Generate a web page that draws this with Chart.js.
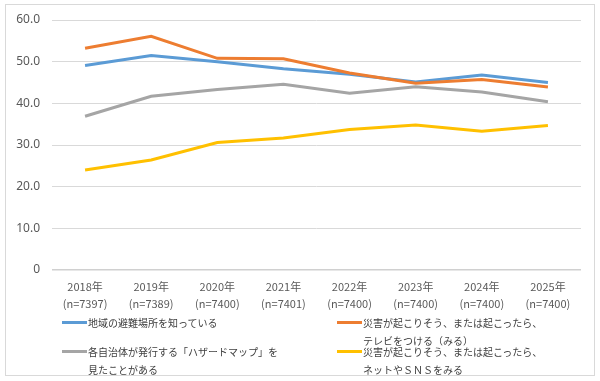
<!DOCTYPE html>
<html>
<head>
<meta charset="utf-8">
<script src="https://cdn.jsdelivr.net/npm/chart.js@4"></script>
<style>
  body { margin: 0; background: #fff; }
  #wrap { position: relative; width: 600px; height: 381px; font-family: "Noto Sans CJK JP", "Noto Sans", sans-serif; }
  #frame { position: absolute; left: 5px; top: 4px; width: 590px; height: 372px; border: 1px solid #d9d9d9; box-sizing: border-box; }
  #chart { position: absolute; left: 0; top: 0; }
  .item { position: absolute; font-size: 10px; line-height: 18px; color: #404040; white-space: nowrap; }
  .item .mark { position: absolute; left: -26px; top: 7px; width: 25px; height: 3px; }
</style>
</head>
<body>
<div id="wrap">
  <div id="frame"></div>
  <canvas id="chart" width="600" height="381"></canvas>
  <div id="legend"></div>
</div>
<script>
// Data
const years = ["2018年", "2019年", "2020年", "2021年", "2022年", "2023年", "2024年", "2025年"];
const sampleSizes = ["(n=7397)", "(n=7389)", "(n=7400)", "(n=7401)", "(n=7400)", "(n=7400)", "(n=7400)", "(n=7400)"];

const seriesNames = [
    "地域の避難場所を知っている",
    "災害が起こりそう、または起こったら、\nテレビをつける（みる）",
    "各自治体が発行する「ハザードマップ」を\n見たことがある",
    "災害が起こりそう、または起こったら、\nネットやＳＮＳをみる"
];
const evacuationPlace = [49.1, 51.5, 50.0, 48.3, 47.0, 45.1, 46.8, 45.0];
const watchTv = [53.2, 56.1, 50.8, 50.7, 47.3, 44.8, 45.7, 43.9];
const hazardMap = [36.9, 41.7, 43.3, 44.6, 42.4, 44.0, 42.7, 40.4];
const netSns = [24.0, 26.4, 30.6, 31.7, 33.7, 34.8, 33.3, 34.7];

const colors = ["#5B9BD5", "#ED7D31", "#A5A5A5", "#FFC000"];
const seriesValues = [evacuationPlace, watchTv, hazardMap, netSns];

const labels = years.map((y, i) => [y, sampleSizes[i]]);

const datasets = seriesValues.map((vals, i) => ({
    label: seriesNames[i].replace("\n", ""),
    data: vals,
    borderColor: colors[i],
    backgroundColor: colors[i],
    borderWidth: 3,
    pointRadius: 0,
    tension: 0,
    order: 4 - i
}));

new Chart(document.getElementById('chart').getContext('2d'), {
    type: 'line',
    data: { labels: labels, datasets: datasets },
    options: {
        responsive: false,
        animation: false,
        layout: { padding: { left: 0, right: 19, top: 20, bottom: 71 } },
        plugins: { legend: { display: false }, tooltip: { enabled: false } },
        scales: {
            x: {
                offset: true,
                grid: { display: false, drawTicks: false },
                border: { display: false },
                ticks: {
                    color: '#595959',
                    font: { size: 11, family: '"Noto Sans CJK JP", sans-serif', lineHeight: 1.5 },
                    padding: 9,
                    maxRotation: 0,
                    autoSkip: false
                },
                afterFit: function(scale) { scale.height = 40; }
            },
            y: {
                min: 0,
                max: 60,
                grid: { color: ctx => ctx.tick.value === 0 ? '#d0d0d0' : '#d9d9d9', lineWidth: ctx => ctx.tick.value === 0 ? 1.5 : 1, drawTicks: false },
                border: { display: false },
                ticks: {
                    stepSize: 10,
                    color: '#595959',
                    font: { size: 12, family: '"Noto Sans", sans-serif' },
                    padding: 12,
                    callback: v => v === 0 ? '0' : v.toFixed(1)
                },
                afterFit: function(scale) { scale.width = 52; }
            }
        }
    }
});

// HTML legend, two columns like the original
const legendPos = [
    { left: 88, top: 314 },
    { left: 363, top: 314 },
    { left: 88, top: 343 },
    { left: 363, top: 343 }
];
const legend = document.getElementById('legend');
seriesNames.forEach((name, i) => {
    const div = document.createElement('div');
    div.className = 'item';
    div.style.left = legendPos[i].left + 'px';
    div.style.top = legendPos[i].top + 'px';
    div.innerHTML = '<span class="mark" style="background:' + colors[i] + '"></span>' + name.replace("\n", "<br>");
    legend.appendChild(div);
});
</script>
</body>
</html>
